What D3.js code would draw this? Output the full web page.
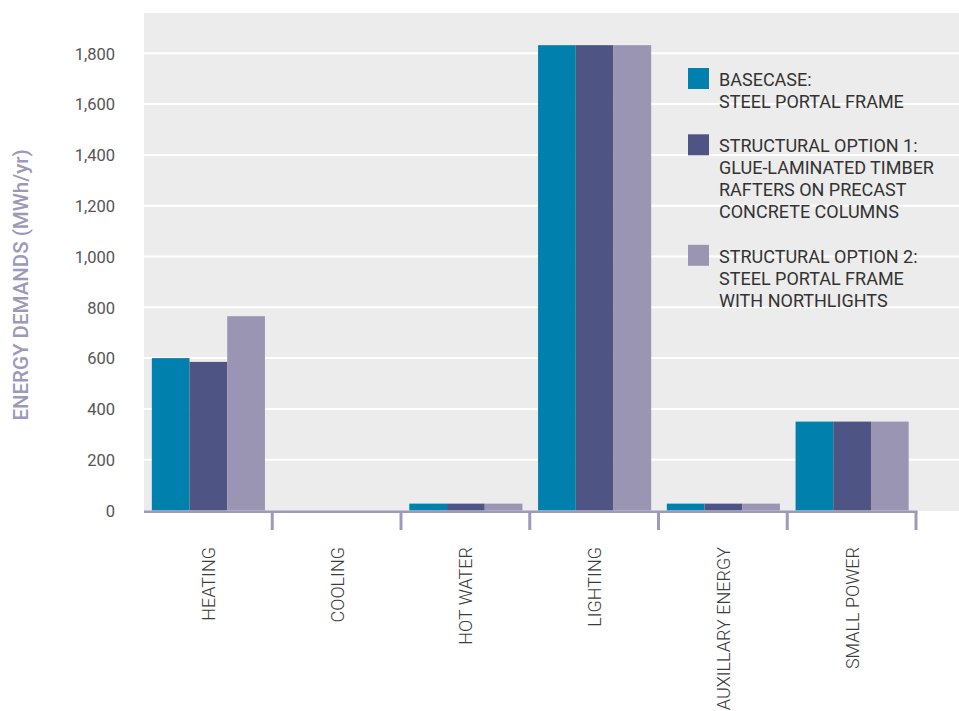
<!DOCTYPE html>
<html>
<head>
<meta charset="utf-8">
<script src="https://cdn.jsdelivr.net/npm/d3@7/dist/d3.min.js"></script>
<style>
  html, body { margin: 0; padding: 0; background: #ffffff; }
  svg { display: block; font-family: Roboto, "DejaVu Sans", sans-serif; }
</style>
</head>
<body>
<svg id="chart" width="959" height="711"></svg>
<script>
// Annual energy demand per end use, for three structural options (MWh/yr)
const categories = ["HEATING", "COOLING", "HOT WATER", "LIGHTING", "AUXILLARY ENERGY", "SMALL POWER"];
const seriesKeys = ["basecase", "option1", "option2"];
const basecase = [600, 0, 27, 1832, 27, 350];
const option1  = [585, 0, 27, 1832, 27, 350];
const option2  = [765, 0, 27, 1832, 27, 350];
const yTicks = [0, 200, 400, 600, 800, 1000, 1200, 1400, 1600, 1800];
const legendLines = [
  ["BASECASE:", "STEEL PORTAL FRAME"],
  ["STRUCTURAL OPTION 1:", "GLUE-LAMINATED TIMBER", "RAFTERS ON PRECAST", "CONCRETE COLUMNS"],
  ["STRUCTURAL OPTION 2:", "STEEL PORTAL FRAME", "WITH NORTHLIGHTS"]
];
const colors = { basecase: "#0080ac", option1: "#4e5484", option2: "#9995b3" };

const values = { basecase, option1, option2 };
const rows = categories.map((c, i) => ({
  category: c,
  bars: seriesKeys.map(k => ({ key: k, value: values[k][i] }))
}));

const svg = d3.select("#chart");
const plot = { left: 144, right: 959, top: 13, bottom: 511, axisEnd: 916.5 };

const x = d3.scaleBand().domain(categories).range([plot.left, plot.axisEnd]).paddingInner(0).paddingOuter(0);
const xInner = d3.scaleBand().domain(seriesKeys).range([0, x.bandwidth()]).paddingInner(0).paddingOuter(0.2075);
const y = d3.scaleLinear().domain([0, 1800]).range([510.5, 53.3]);

// plot background
svg.append("rect")
  .attr("x", plot.left).attr("y", plot.top)
  .attr("width", plot.right - plot.left).attr("height", plot.bottom - plot.top)
  .attr("fill", "#ececec");

// horizontal gridlines
svg.append("g")
  .selectAll("line")
  .data(yTicks.filter(t => t > 0))
  .join("line")
  .attr("x1", plot.left).attr("x2", plot.right)
  .attr("y1", d => y(d)).attr("y2", d => y(d))
  .attr("stroke", "#ffffff").attr("stroke-width", 2);

// y tick labels
const yAxis = d3.axisLeft(y).tickValues(yTicks).tickSize(0).tickPadding(0)
  .tickFormat(d3.format(","));
svg.append("g")
  .attr("transform", "translate(115,0)")
  .call(yAxis)
  .call(g => g.select(".domain").remove())
  .call(g => g.selectAll("text")
    .attr("fill", "#555555")
    .attr("font-size", "16.5px")
    .attr("font-family", "Roboto, sans-serif")
    .attr("dy", "0.35em"));

// y axis title
svg.append("text")
  .attr("transform", "translate(28,285) rotate(-90)")
  .attr("text-anchor", "middle")
  .attr("fill", "#9c99bb")
  .attr("font-size", "20.5px")
  .attr("font-weight", 500)
  .text("ENERGY DEMANDS (MWh/yr)");

// bars
const groups = svg.append("g")
  .selectAll("g")
  .data(rows)
  .join("g")
  .attr("transform", d => `translate(${x(d.category)},0)`);

groups.selectAll("rect")
  .data(d => d.bars)
  .join("rect")
  .attr("x", d => xInner(d.key))
  .attr("width", xInner.bandwidth())
  .attr("y", d => y(d.value))
  .attr("height", d => y(0) - y(d.value))
  .attr("fill", d => colors[d.key]);

// category axis: baseline and separators between categories
const axisColor = "#9d99bb";
const xAxis = svg.append("g");
xAxis.append("line")
  .attr("x1", plot.left).attr("x2", plot.axisEnd + 1)
  .attr("y1", 511.8).attr("y2", 511.8)
  .attr("stroke", axisColor).attr("stroke-width", 2.5);
xAxis.selectAll("line.sep")
  .data(categories)
  .join("line")
  .attr("class", "sep")
  .attr("x1", d => x(d) + x.bandwidth() - 0.5)
  .attr("x2", d => x(d) + x.bandwidth() - 0.5)
  .attr("y1", 511).attr("y2", 530)
  .attr("stroke", axisColor).attr("stroke-width", 3);

// category labels
xAxis.selectAll("text")
  .data(categories)
  .join("text")
  .attr("transform", d => `translate(${x(d) + x.bandwidth() / 2},547) rotate(-90)`)
  .attr("text-anchor", "end")
  .attr("dy", "0.36em")
  .attr("fill", "#3c3c3c")
  .attr("font-size", "18px")
  .attr("font-weight", 300)
  .text(d => d);

// legend
const legend = svg.append("g");
const lineH = 22.1;
const firstBaseline = 85.7;
let lineIndex = 0;
legendLines.forEach((lines, i) => {
  const base = firstBaseline + lineIndex * lineH;
  legend.append("rect")
    .attr("x", 688).attr("y", base - 17.7)
    .attr("width", 21).attr("height", 21)
    .attr("fill", colors[seriesKeys[i]]);
  legend.append("g")
    .selectAll("text")
    .data(lines)
    .join("text")
    .attr("x", 719)
    .attr("y", (d, j) => base + j * lineH)
    .attr("fill", "#333333")
    .attr("font-size", "18px")
    .text(d => d);
  lineIndex += lines.length + 1;
});
</script>
</body>
</html>
